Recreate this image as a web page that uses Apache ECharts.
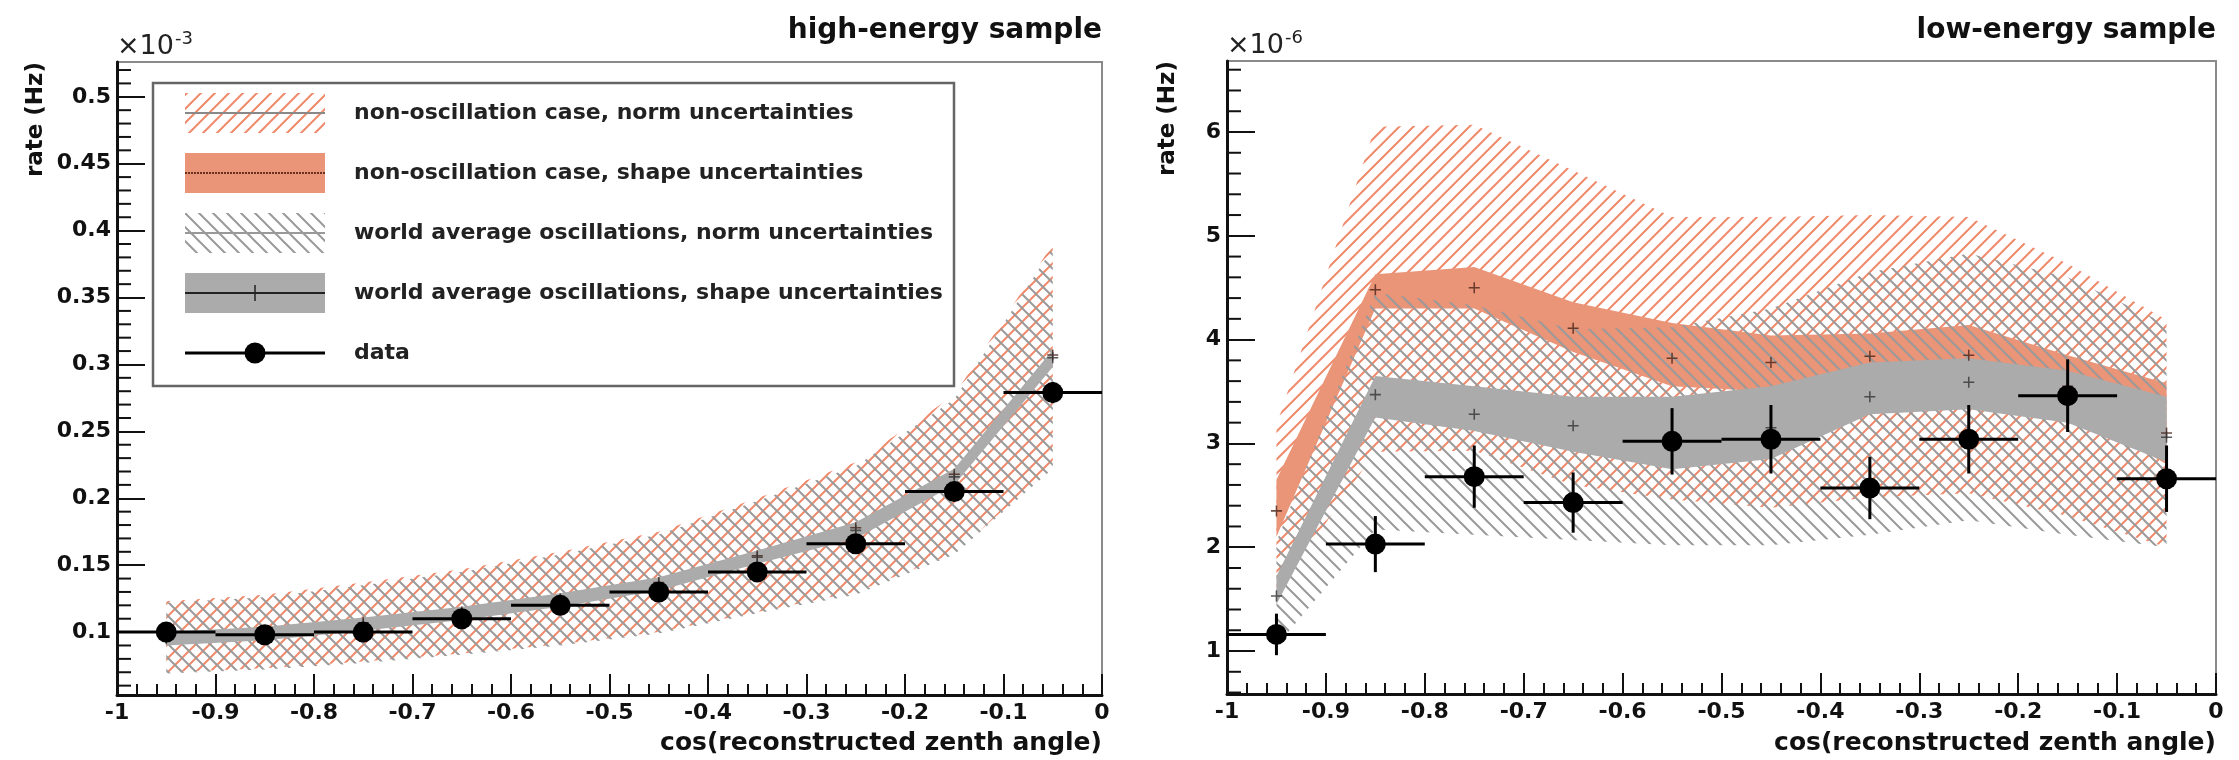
<!DOCTYPE html>
<html><head><meta charset="utf-8">
<script src="https://cdn.jsdelivr.net/npm/echarts@6/dist/echarts.min.js"></script>
<style>html,body{margin:0;padding:0;background:#fff}#c{width:2239px;height:760px}</style>
</head><body><div id="c"></div>
<script>
// ---------- shared x binning ----------
const binCenters = [-0.95, -0.85, -0.75, -0.65, -0.55, -0.45, -0.35, -0.25, -0.15, -0.05];
const binHalfWidth = 0.05;

// ---------- high-energy sample (rate in 1e-3 Hz) ----------
const heData        = [0.100, 0.098, 0.100, 0.110, 0.120, 0.130, 0.145, 0.166, 0.205, 0.279];
const heDataErr     = [0.003, 0.003, 0.003, 0.003, 0.003, 0.004, 0.004, 0.005, 0.006, 0.008];
const heOscCentral  = [0.095, 0.099, 0.106, 0.114, 0.124, 0.136, 0.156, 0.176, 0.216, 0.305];
const heOscShapeUp  = [0.100, 0.104, 0.111, 0.119, 0.129, 0.141, 0.161, 0.182, 0.222, 0.311];
const heOscShapeLo  = [0.090, 0.094, 0.101, 0.109, 0.119, 0.131, 0.151, 0.170, 0.210, 0.298];
const heOscNormUp   = [0.122, 0.126, 0.135, 0.145, 0.158, 0.173, 0.198, 0.224, 0.274, 0.387];
const heOscNormLo   = [0.069, 0.072, 0.077, 0.083, 0.090, 0.099, 0.114, 0.128, 0.158, 0.222];
const heNoOscCentral= [0.096, 0.100, 0.107, 0.115, 0.125, 0.137, 0.157, 0.178, 0.218, 0.307];
const heNoOscShapeUp= [0.099, 0.103, 0.110, 0.118, 0.128, 0.140, 0.160, 0.181, 0.221, 0.310];
const heNoOscShapeLo= [0.092, 0.096, 0.103, 0.111, 0.121, 0.133, 0.153, 0.172, 0.212, 0.300];
const heNoOscNormUp = [0.123, 0.128, 0.137, 0.147, 0.160, 0.175, 0.200, 0.227, 0.277, 0.390];
const heNoOscNormLo = [0.070, 0.073, 0.078, 0.084, 0.091, 0.100, 0.115, 0.130, 0.159, 0.224];

// ---------- low-energy sample (rate in 1e-6 Hz) ----------
const leData        = [1.16, 2.03, 2.68, 2.43, 3.02, 3.04, 2.57, 3.04, 3.46, 2.66];
const leDataErr     = [0.20, 0.27, 0.30, 0.29, 0.32, 0.33, 0.30, 0.33, 0.35, 0.32];
const leOscCentral  = [1.53, 3.47, 3.28, 3.17, 3.08, 3.15, 3.45, 3.59, 3.45, 3.06];
const leOscShapeUp  = [1.72, 3.65, 3.55, 3.45, 3.45, 3.55, 3.78, 3.82, 3.70, 3.45];
const leOscShapeLo  = [1.45, 3.25, 3.12, 2.92, 2.75, 2.85, 3.28, 3.33, 3.20, 2.82];
const leOscNormUp   = [2.05, 4.45, 4.33, 4.10, 4.12, 4.30, 4.65, 4.83, 4.60, 4.15];
const leOscNormLo   = [1.05, 2.17, 2.12, 2.07, 2.02, 2.02, 2.12, 2.26, 2.12, 2.00];
const leNoOscCentral= [2.35, 4.48, 4.50, 4.11, 3.82, 3.78, 3.84, 3.85, 3.55, 3.10];
const leNoOscShapeUp= [2.65, 4.63, 4.70, 4.36, 4.16, 4.04, 4.06, 4.14, 3.85, 3.58];
const leNoOscShapeLo= [2.10, 4.30, 4.30, 3.88, 3.55, 3.50, 3.60, 3.62, 3.35, 2.80];
const leNoOscNormUp = [3.17, 6.05, 6.07, 5.63, 5.18, 5.18, 5.20, 5.18, 4.73, 4.19];
const leNoOscNormLo = [1.55, 2.92, 2.93, 2.60, 2.46, 2.38, 2.48, 2.52, 2.30, 2.00];

// ---------- ticks / labels ----------
const heYMajor = [0.1, 0.15, 0.2, 0.25, 0.3, 0.35, 0.4, 0.45, 0.5];
const leYMajor = [1, 2, 3, 4, 5, 6];
const heYRange = [0.053, 0.526];
const leYRange = [0.586, 6.684];
const heYMinor = [0.06, 0.07, 0.08, 0.09, 0.11, 0.12, 0.13, 0.14, 0.16, 0.17, 0.18, 0.19,
                  0.21, 0.22, 0.23, 0.24, 0.26, 0.27, 0.28, 0.29, 0.31, 0.32, 0.33, 0.34,
                  0.36, 0.37, 0.38, 0.39, 0.41, 0.42, 0.43, 0.44, 0.46, 0.47, 0.48, 0.49, 0.51, 0.52];
const leYMinor = [0.6, 0.8, 1.2, 1.4, 1.6, 1.8, 2.2, 2.4, 2.6, 2.8, 3.2, 3.4, 3.6, 3.8,
                  4.2, 4.4, 4.6, 4.8, 5.2, 5.4, 5.6, 5.8, 6.2, 6.4, 6.6];

const titles = ['high-energy sample', 'low-energy sample'];
const multipliers = ['-3', '-6'];
const xTitle = 'cos(reconstructed zenth angle)';
const yTitle = 'rate (Hz)';
const legendLabels = [
  'non-oscillation case, norm uncertainties',
  'non-oscillation case, shape uncertainties',
  'world average oscillations, norm uncertainties',
  'world average oscillations, shape uncertainties',
  'data'
];

// ---------- styles ----------
const FONT = 'DejaVu Sans';
const SALMON_FILL = '#EA9478';
const SALMON_HATCH = '#EF8A6C';
const GRAY_FILL = '#ABABAB';
const GRAY_HATCH = '#9A9A9A';

function hatchCanvas(dir, color, s, lw) {
  const c = document.createElement('canvas');
  c.width = s; c.height = s;
  const g = c.getContext('2d');
  g.strokeStyle = color; g.lineWidth = lw;
  g.beginPath();
  if (dir === '/') {
    g.moveTo(-s/2, s/2); g.lineTo(s/2, -s/2);
    g.moveTo(0, s); g.lineTo(s, 0);
    g.moveTo(s/2, 1.5*s); g.lineTo(1.5*s, s/2);
  } else {
    g.moveTo(-s/2, s/2); g.lineTo(s/2, 1.5*s);
    g.moveTo(0, 0); g.lineTo(s, s);
    g.moveTo(s/2, -s/2); g.lineTo(1.5*s, s/2);
  }
  g.stroke();
  return c;
}
const salmonHatch = {image: hatchCanvas('/', SALMON_HATCH, 14, 2), repeat: 'repeat'};
const grayHatch = {image: hatchCanvas('\\', GRAY_HATCH, 14, 2), repeat: 'repeat'};

const grids = [
  {left: 117, top: 62, width: 985, height: 633},
  {left: 1227, top: 61, width: 989, height: 633}
];

function band(gi, upper, lower, fill, z) {
  return {
    type: 'custom', xAxisIndex: gi, yAxisIndex: gi, z: z, silent: true,
    data: binCenters.map((x, i) => [x, lower[i], upper[i]]),
    encode: {x: 0, y: [1, 2]},
    renderItem(params, api) {
      if (params.dataIndex !== 0) return null;
      const pts = [];
      for (let i = 0; i < binCenters.length; i++) pts.push(api.coord([binCenters[i], upper[i]]));
      for (let i = binCenters.length - 1; i >= 0; i--) pts.push(api.coord([binCenters[i], lower[i]]));
      return {type: 'polygon', shape: {points: pts}, style: {fill: fill, stroke: null}};
    }
  };
}
// y-axis minor ticks drawn through the axis scale (one group, like the bands)
function minorTicks(gi, vals) {
  return {
    type: 'custom', xAxisIndex: gi, yAxisIndex: gi, z: 30, silent: true,
    data: binCenters.map((x, i) => [x, i]),
    encode: {x: 0},
    renderItem(params, api) {
      if (params.dataIndex !== 0) return null;
      const children = vals.map(v => {
        const p = api.coord([-1, v]);
        return {type: 'rect', shape: {x: p[0], y: p[1] - 1, width: 14, height: 2}, style: {fill: '#111'}};
      });
      return {type: 'group', children: children};
    }
  };
}
function markers(gi, vals, color, z) {
  return {
    type: 'scatter', xAxisIndex: gi, yAxisIndex: gi, z: z, silent: true,
    symbol: 'path://M4.3,0h1.4v10h-1.4zM0,4.3h10v1.4h-10z', symbolSize: 11,
    itemStyle: {color: color},
    data: binCenters.map((x, i) => [x, vals[i]])
  };
}
function dataPts(gi, vals, errs) {
  return {
    type: 'custom', xAxisIndex: gi, yAxisIndex: gi, z: 20, silent: true,
    data: binCenters.map((x, i) => [x, vals[i], errs[i]]),
    encode: {x: 0, y: 1},
    renderItem(params, api) {
      const x = api.value(0), v = api.value(1), e = api.value(2);
      const l = api.coord([x - binHalfWidth, v]), r = api.coord([x + binHalfWidth, v]);
      const t = api.coord([x, v + e]), b = api.coord([x, v - e]), c = api.coord([x, v]);
      return {type: 'group', children: [
        {type: 'line', shape: {x1: l[0], y1: l[1], x2: r[0], y2: r[1]}, style: {stroke: '#000', lineWidth: 3}},
        {type: 'line', shape: {x1: t[0], y1: t[1], x2: b[0], y2: b[1]}, style: {stroke: '#000', lineWidth: 3}},
        {type: 'circle', shape: {cx: c[0], cy: c[1], r: 10.5}, style: {fill: '#000'}}
      ]};
    }
  };
}

const labelStyle = {fontFamily: FONT, fontWeight: 'bold', fontSize: 22, color: '#111'};

function xAxisFor(gi) {
  return {
    type: 'value', gridIndex: gi, min: -1, max: 0, interval: 0.1,
    axisLine: {show: true, onZero: false, lineStyle: {color: '#111', width: 3}},
    axisTick: {show: true, inside: true, length: 21, lineStyle: {color: '#111', width: 2}},
    minorTick: {show: true, splitNumber: 5, length: 11, lineStyle: {color: '#111', width: 2}},
    axisLabel: Object.assign({margin: 7, formatter: v => (Math.abs(v) < 1e-9 ? '0' : String(Math.round(v * 10) / 10))}, labelStyle),
    splitLine: {show: false}
  };
}
function yAxisFor(gi, range, major, fmt) {
  return {
    type: 'value', gridIndex: gi, position: 'left', min: range[0], max: range[1],
    axisLine: {show: true, onZero: false, lineStyle: {color: '#111', width: 3}},
    axisTick: {show: true, inside: true, length: 28, customValues: major, lineStyle: {color: '#111', width: 2}},
    axisLabel: Object.assign({margin: 6, customValues: major, formatter: fmt}, labelStyle),
    splitLine: {show: false}
  };
}

const graphics = [];
grids.forEach((g, gi) => {
  const right = g.left + g.width;
  graphics.push({type: 'text', x: right, y: 31, style: {text: titles[gi], fontFamily: FONT, fontWeight: 'bold', fontSize: 28, fill: '#111', align: 'right', verticalAlign: 'middle'}});
  graphics.push({type: 'text', x: right, y: 743, style: {text: xTitle, fontFamily: FONT, fontWeight: 'bold', fontSize: 25, fill: '#111', align: 'right', verticalAlign: 'middle'}});
  graphics.push({type: 'text', x: gi === 0 ? 36 : 1168, y: g.top, rotation: Math.PI / 2, style: {text: yTitle, fontFamily: FONT, fontWeight: 'bold', fontSize: 23, fill: '#111', align: 'right', verticalAlign: 'middle'}});
  graphics.push({type: 'text', x: g.left, y: g.top - 2, style: {text: '×10', fontFamily: FONT, fontSize: 27, fill: '#222', align: 'left', verticalAlign: 'bottom'}});
  graphics.push({type: 'text', x: g.left + 58, y: g.top - 14, style: {text: multipliers[gi], fontFamily: FONT, fontSize: 18, fill: '#222', align: 'left', verticalAlign: 'bottom'}});
});

// legend box (left panel)
const LB = {x: 153, y: 83, w: 801, h: 303};
const rowY = [113, 173, 233, 293, 353];
const symX0 = 185, symX1 = 325, symH = 40, textX = 354;
const leg = [];
leg.push({type: 'rect', shape: {x: LB.x, y: LB.y, width: LB.w, height: LB.h}, style: {fill: '#fff', stroke: '#666', lineWidth: 2.5}});
leg.push({type: 'rect', shape: {x: symX0, y: rowY[0] - symH/2, width: symX1 - symX0, height: symH}, style: {fill: salmonHatch}});
leg.push({type: 'line', shape: {x1: symX0, y1: rowY[0], x2: symX1, y2: rowY[0]}, style: {stroke: '#888', lineWidth: 2}});
leg.push({type: 'rect', shape: {x: symX0, y: rowY[1] - symH/2, width: symX1 - symX0, height: symH}, style: {fill: SALMON_FILL}});
leg.push({type: 'line', shape: {x1: symX0, y1: rowY[1], x2: symX1, y2: rowY[1]}, style: {stroke: '#6a3020', lineWidth: 2, lineDash: [2, 1]}});
leg.push({type: 'rect', shape: {x: symX0, y: rowY[2] - symH/2, width: symX1 - symX0, height: symH}, style: {fill: grayHatch}});
leg.push({type: 'line', shape: {x1: symX0, y1: rowY[2], x2: symX1, y2: rowY[2]}, style: {stroke: '#999', lineWidth: 2}});
leg.push({type: 'rect', shape: {x: symX0, y: rowY[3] - symH/2, width: symX1 - symX0, height: symH}, style: {fill: GRAY_FILL}});
leg.push({type: 'line', shape: {x1: symX0, y1: rowY[3], x2: symX1, y2: rowY[3]}, style: {stroke: '#222', lineWidth: 2}});
leg.push({type: 'line', shape: {x1: (symX0 + symX1)/2, y1: rowY[3] - 8, x2: (symX0 + symX1)/2, y2: rowY[3] + 8}, style: {stroke: '#222', lineWidth: 1.5}});
leg.push({type: 'line', shape: {x1: symX0, y1: rowY[4], x2: symX1, y2: rowY[4]}, style: {stroke: '#000', lineWidth: 3}});
leg.push({type: 'circle', shape: {cx: (symX0 + symX1)/2, cy: rowY[4], r: 10.5}, style: {fill: '#000'}});
legendLabels.forEach((t, i) => {
  leg.push({type: 'text', x: textX, y: rowY[i], style: {text: t, fontFamily: FONT, fontWeight: 'bold', fontSize: 22, fill: '#222', align: 'left', verticalAlign: 'middle'}});
});
graphics.push({type: 'group', z: 100, children: leg});

const fmtHe = v => String(Math.round(v * 100) / 100);
const fmtLe = v => String(Math.round(v));

const option = {
  backgroundColor: '#fff',
  animation: false,
  grid: grids.map(g => Object.assign({show: true, borderColor: '#8a8a8a', borderWidth: 2, backgroundColor: 'transparent'}, g)),
  xAxis: [xAxisFor(0), xAxisFor(1)],
  yAxis: [yAxisFor(0, heYRange, heYMajor, fmtHe), yAxisFor(1, leYRange, leYMajor, fmtLe)],
  series: [
    band(0, heNoOscNormUp, heNoOscNormLo, salmonHatch, 1),
    band(0, heNoOscShapeUp, heNoOscShapeLo, SALMON_FILL, 2),
    band(0, heOscNormUp, heOscNormLo, grayHatch, 3),
    band(0, heOscShapeUp, heOscShapeLo, GRAY_FILL, 4),
    markers(0, heNoOscCentral, '#4a2418', 5),
    markers(0, heOscCentral, '#333', 6),
    dataPts(0, heData, heDataErr),
    minorTicks(0, heYMinor),
    band(1, leNoOscNormUp, leNoOscNormLo, salmonHatch, 1),
    band(1, leNoOscShapeUp, leNoOscShapeLo, SALMON_FILL, 2),
    band(1, leOscNormUp, leOscNormLo, grayHatch, 3),
    band(1, leOscShapeUp, leOscShapeLo, GRAY_FILL, 4),
    markers(1, leNoOscCentral, '#4a2418', 5),
    markers(1, leOscCentral, '#333', 6),
    dataPts(1, leData, leDataErr),
    minorTicks(1, leYMinor)
  ],
  graphic: {elements: graphics}
};

const chart = echarts.init(document.getElementById('c'), null, {renderer: 'canvas', width: 2239, height: 760});
chart.setOption(option);
</script>
</body></html>
